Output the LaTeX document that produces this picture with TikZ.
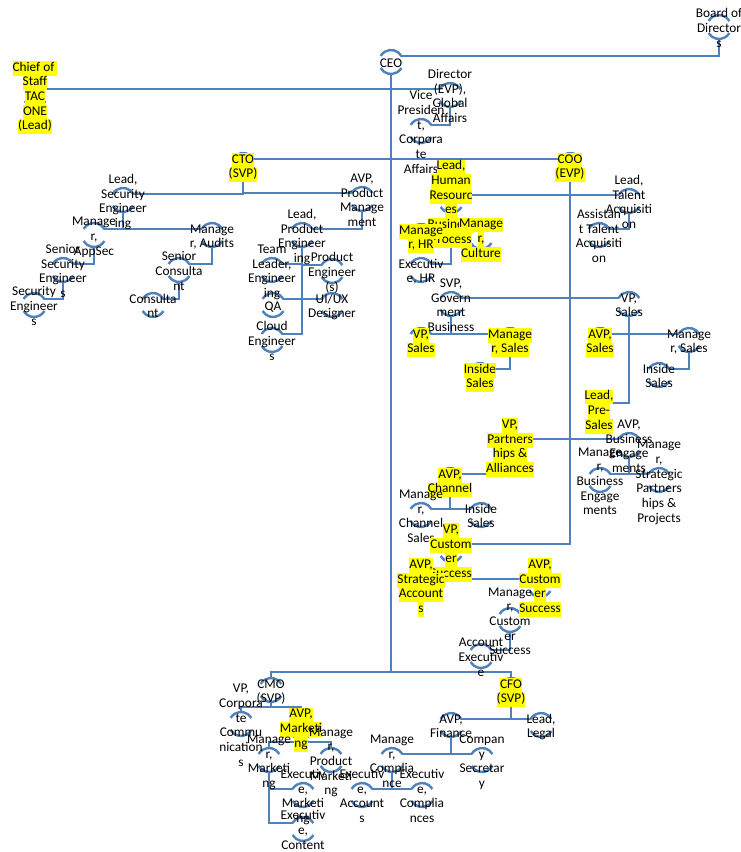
\documentclass[tikz,border=0pt]{standalone}
\usepackage{fontspec}
\setmainfont{Carlito}
\usepackage{xcolor}
\usepackage{tikz}
\pgfdeclarelayer{background}
\pgfsetlayers{background,main}

\definecolor{orgblue}{RGB}{79,129,189}
\definecolor{hlyellow}{RGB}{255,255,0}
\setlength{\fboxsep}{0pt}
\newcommand{\hlt}[1]{\colorbox{hlyellow}{\strut #1}}
\newcommand{\orgtxt}[1]{\makebox[0pt]{\smash{\raisebox{-4.4pt}{\begin{tabular}{@{}c@{}}#1\end{tabular}}}}}

\begin{document}
\begin{tikzpicture}[x=0.75pt,y=0.75pt,yscale=-1,xscale=1,
  org/.style={circle,minimum size=18pt,inner sep=0pt,outer sep=0pt,font=\fontsize{10}{11}\selectfont},
  link/.style={draw=orgblue,line width=2pt},
  bracket/.style={draw=orgblue,line width=1.8pt}]
\useasboundingbox (0,0) rectangle (741,852);

% Text Node
\node [org] (board) at (719,27) {\orgtxt{Board of\\Director\\s}};
% Text Node
\node [org] (ceo) at (391,62) {\orgtxt{CEO}};
% Text Node
\node [org] (chief) at (35,95) {\orgtxt{\hlt{Chief of }\\\hlt{Staff}\\\hlt{TAC}\\\hlt{ONE}\\\hlt{(Lead)}}};
% Text Node
\node [org] (globalaff) at (450,95) {\orgtxt{Director\\(EVP),\\Global\\Affairs}};
% Text Node
\node [org] (corpaff) at (421,131) {\orgtxt{Vice\\Presiden\\t,\\Corpora\\te\\Affairs}};
% Text Node
\node [org] (cto) at (243,165) {\orgtxt{\hlt{CTO}\\\hlt{(SVP)}}};
% Text Node
\node [org] (coo) at (570,165) {\orgtxt{\hlt{COO}\\\hlt{(EVP)}}};
\coordinate (bus) at (391,672);

% Text Node
\node [org] (leadsec) at (123,200) {\orgtxt{Lead,\\Security\\Engineer\\ing}};
% Text Node
\node [org] (avpprod) at (362,199) {\orgtxt{AVP,\\Product\\Manage\\ment}};
% Text Node
\node [org] (mgrappsec) at (94,235) {\orgtxt{Manage\\r,\\AppSec}};
% Text Node
\node [org] (mgraudits) at (212,235) {\orgtxt{Manage\\r, Audits}};
% Text Node
\node [org] (srsec) at (63,270) {\orgtxt{Senior\\Security\\Engineer\\s}};
% Text Node
\node [org] (seceng) at (34,305) {\orgtxt{Security\\Engineer\\s}};
% Text Node
\node [org] (srcons) at (179,270) {\orgtxt{Senior\\Consulta\\nt}};
% Text Node
\node [org] (cons) at (153,305) {\orgtxt{Consulta\\nt}};
% Text Node
\node [org] (leadprod) at (302,235) {\orgtxt{Lead,\\Product\\Engineer\\ing}};
% Text Node
\node [org] (teamlead) at (272,270) {\orgtxt{Team\\Leader,\\Engineer\\ing}};
% Text Node
\node [org] (prodeng) at (332,271) {\orgtxt{Product\\Engineer\\(s)}};
% Text Node
\node [org] (qa) at (273,305) {\orgtxt{QA}};
% Text Node
\node [org] (uiux) at (332,305) {\orgtxt{UI/UX\\Designer}};
% Text Node
\node [org] (cloud) at (272,340) {\orgtxt{Cloud\\Engineer\\s}};

% Text Node
\node [org] (leadhr) at (451,201) {\orgtxt{\hlt{Lead,}\\\hlt{Human}\\\hlt{Resourc}\\\hlt{es}\\\hlt{Business}\\\hlt{Process}}};
% Text Node
\node [org] (mgrhr) at (421,236) {\orgtxt{\hlt{Manage}\\\hlt{r, HR}}};
% Text Node
\node [org] (mgrcult) at (481,237) {\orgtxt{\hlt{Manage}\\\hlt{r,}\\\hlt{Culture}}};
% Text Node
\node [org] (exechr) at (421,270) {\orgtxt{Executiv\\e, HR}};
% Text Node
\node [org] (leadta) at (629,201) {\orgtxt{Lead,\\Talent\\Acquisiti\\on}};
% Text Node
\node [org] (asstta) at (599,235) {\orgtxt{Assistan\\t Talent\\Acquisiti\\on}};
% Text Node
\node [org] (svpgov) at (451,304) {\orgtxt{SVP,\\Govern\\ment\\Business}};
% Text Node
\node [org] (vpsalesL) at (421,340) {\orgtxt{\hlt{VP,}\\\hlt{Sales}}};
% Text Node
\node [org] (mgrsalesL) at (510,340) {\orgtxt{\hlt{Manage}\\\hlt{r, Sales}}};
% Text Node
\node [org] (insideL) at (480,375) {\orgtxt{\hlt{Inside}\\\hlt{Sales}}};
% Text Node
\node [org] (vpsalesR) at (629,304) {\orgtxt{VP,\\Sales}};
% Text Node
\node [org] (avpsalesR) at (600,340) {\orgtxt{\hlt{AVP,}\\\hlt{Sales}}};
% Text Node
\node [org] (mgrsalesR) at (689,340) {\orgtxt{Manage\\r, Sales}};
% Text Node
\node [org] (insideR) at (659,375) {\orgtxt{Inside\\Sales}};
% Text Node
\node [org] (leadpre) at (599,409) {\orgtxt{\hlt{Lead,}\\\hlt{Pre-}\\\hlt{Sales}}};
% Text Node
\node [org] (vppart) at (510,445) {\orgtxt{\hlt{VP,}\\\hlt{Partners}\\\hlt{hips \&}\\\hlt{Alliances}}};
% Text Node
\node [org] (avpbiz) at (629,445) {\orgtxt{AVP,\\Business\\Engage\\ments}};
% Text Node
\node [org] (mgrbiz) at (600,480) {\orgtxt{Manage\\r,\\Business\\Engage\\ments}};
% Text Node
\node [org] (mgrstrat) at (659,480) {\orgtxt{Manage\\r,\\Strategic\\Partners\\hips \&\\Projects}};
% Text Node
\node [org] (avpchan) at (450,480) {\orgtxt{\hlt{AVP,}\\\hlt{Channel}}};
% Text Node
\node [org] (mgrchan) at (421,515) {\orgtxt{Manage\\r,\\Channel\\Sales}};
% Text Node
\node [org] (insidechan) at (481,515) {\orgtxt{Inside\\Sales}};
% Text Node
\node [org] (vpcs) at (451,550) {\orgtxt{\hlt{VP,}\\\hlt{Custom}\\\hlt{er}\\\hlt{Success}}};
% Text Node
\node [org] (avpstrat) at (421,585) {\orgtxt{\hlt{AVP,}\\\hlt{Strategic}\\\hlt{Account}\\\hlt{s}}};
% Text Node
\node [org] (avpcs) at (540,585) {\orgtxt{\hlt{AVP,}\\\hlt{Custom}\\\hlt{er}\\\hlt{Success}}};
% Text Node
\node [org] (mgrcs) at (510,620) {\orgtxt{Manage\\r,\\Custom\\er\\Success}};
% Text Node
\node [org] (acctexec) at (481,656) {\orgtxt{Account\\Executiv\\e}};

% Text Node
\node [org] (cmo) at (271,690) {\orgtxt{CMO\\(SVP)}};
% Text Node
\node [org] (cfo) at (511,690) {\orgtxt{\hlt{CFO}\\\hlt{(SVP)}}};
% Text Node
\node [org] (vpcomm) at (241,724) {\orgtxt{VP,\\Corpora\\te\\Commu\\nication\\s}};
% Text Node
\node [org] (avpmkt) at (301,727) {\orgtxt{\hlt{AVP,}\\\hlt{Marketi}\\\hlt{ng}}};
% Text Node
\node [org] (mgrmkt) at (269,760) {\orgtxt{Manage\\r,\\Marketi\\ng}};
% Text Node
\node [org] (mgrprodmkt) at (331,760) {\orgtxt{Manage\\r,\\Product\\Marketi\\ng}};
% Text Node
\node [org] (execmkt) at (303,795) {\orgtxt{Executiv\\e,\\Marketi\\ng}};
% Text Node
\node [org] (execcont) at (303,829) {\orgtxt{Executiv\\e,\\Content}};
% Text Node
\node [org] (avpfin) at (451,725) {\orgtxt{AVP,\\Finance}};
% Text Node
\node [org] (leadlegal) at (541,725) {\orgtxt{Lead,\\Legal}};
% Text Node
\node [org] (mgrcomp) at (392,760) {\orgtxt{Manage\\r,\\Complia\\nce}};
% Text Node
\node [org] (compsec) at (482,760) {\orgtxt{Compan\\y\\Secretar\\y}};
% Text Node
\node [org] (execacc) at (362,795) {\orgtxt{Executiv\\e,\\Account\\s}};
% Text Node
\node [org] (execcompl) at (422,795) {\orgtxt{Executiv\\e,\\Complia\\nces}};

\begin{pgfonlayer}{background}
%Brackets
\foreach \n in {board,ceo,chief,globalaff,corpaff,cto,coo,leadsec,avpprod,mgrappsec,mgraudits,srsec,seceng,srcons,cons,leadprod,teamlead,prodeng,qa,uiux,cloud,leadhr,mgrhr,mgrcult,exechr,leadta,asstta,svpgov,vpsalesL,mgrsalesL,insideL,vpsalesR,avpsalesR,mgrsalesR,insideR,leadpre,vppart,avpbiz,mgrbiz,mgrstrat,avpchan,mgrchan,insidechan,vpcs,avpstrat,avpcs,mgrcs,acctexec,cmo,cfo,vpcomm,avpmkt,mgrmkt,mgrprodmkt,execmkt,execcont,avpfin,leadlegal,mgrcomp,compsec,execacc,execcompl}
  \draw [bracket] (\n.30) arc [start angle=-30,end angle=-150,radius=9pt] (\n.210) arc [start angle=150,end angle=30,radius=9pt];

%Straight Lines
\draw [link] (board.south) |- (ceo.30);
\draw [link] (ceo.south) -- (bus);
\draw [link] (ceo.south |- chief.30) -- (chief.30);
\draw [link] (ceo.south |- globalaff.150) -- (globalaff.150);
\draw [link] (globalaff.south) |- (corpaff.30);
\draw [link] (ceo.south |- cto.30) -- (cto.30);
\draw [link] (ceo.south |- coo.150) -- (coo.150);
\draw [link] (bus) -| (cmo.north);
\draw [link] (bus) -| (cfo.north);

%Straight Lines
\draw [link] (cto.south) |- (leadsec.30);
\draw [link] (cto.south) |- (avpprod.150);
\draw [link] (leadsec.south) |- (mgrappsec.30);
\draw [link] (leadsec.south) |- (mgraudits.150);
\draw [link] (mgrappsec.south) |- (srsec.30);
\draw [link] (srsec.south) |- (seceng.30);
\draw [link] (mgraudits.south) |- (srcons.30);
\draw [link] (srcons.south) |- (cons.30);
\draw [link] (avpprod.south) |- (leadprod.30);
\draw [link] (leadprod.south) |- (teamlead.30);
\draw [link] (leadprod.south) |- (prodeng.150);
\draw [link] (leadprod.south) |- (qa.30);
\draw [link] (leadprod.south) |- (uiux.150);
\draw [link] (leadprod.south) |- (cloud.30);

%Straight Lines
\draw [link] (coo.south) |- (leadhr.30);
\draw [link] (coo.south) |- (leadta.150);
\draw [link] (coo.south) |- (svpgov.30);
\draw [link] (coo.south) |- (vpsalesR.150);
\draw [link] (coo.south) |- (vppart.30);
\draw [link] (coo.south) |- (avpbiz.150);
\draw [link] (coo.south) |- (vpcs.30);
\draw [link] (leadhr.south) |- (mgrhr.30);
\draw [link] (leadhr.south) |- (mgrcult.150);
\draw [link] (leadhr.south) |- (exechr.30);
\draw [link] (leadta.south) |- (asstta.30);
\draw [link] (svpgov.south) |- (vpsalesL.30);
\draw [link] (svpgov.south) |- (mgrsalesL.150);
\draw [link] (mgrsalesL.south) |- (insideL.30);
\draw [link] (vpsalesR.south) |- (avpsalesR.30);
\draw [link] (vpsalesR.south) |- (mgrsalesR.150);
\draw [link] (vpsalesR.south) |- (leadpre.30);
\draw [link] (mgrsalesR.south) |- (insideR.30);
\draw [link] (vppart.south) |- (avpchan.30);
\draw [link] (avpchan.south) |- (mgrchan.30);
\draw [link] (avpchan.south) |- (insidechan.150);
\draw [link] (avpbiz.south) |- (mgrbiz.30);
\draw [link] (avpbiz.south) |- (mgrstrat.150);
\draw [link] (vpcs.south) |- (avpstrat.30);
\draw [link] (vpcs.south) |- (avpcs.150);
\draw [link] (avpcs.south) |- (mgrcs.30);
\draw [link] (mgrcs.south) |- (acctexec.30);

%Straight Lines
\draw [link] (cmo.south) -- ++(0,5) -| (vpcomm.north);
\draw [link] (cmo.south) -- ++(0,5) -| (avpmkt.north);
\draw [link] (avpmkt.south) -- ++(0,3) -| (mgrmkt.north);
\draw [link] (avpmkt.south) -- ++(0,3) -| (mgrprodmkt.north);
\draw [link] (mgrmkt.south) |- (execmkt.150);
\draw [link] (mgrmkt.south) |- (execcont.150);
\draw [link] (cfo.south) |- (avpfin.30);
\draw [link] (cfo.south) |- (leadlegal.150);
\draw [link] (avpfin.south) |- (mgrcomp.30);
\draw [link] (avpfin.south) |- (compsec.150);
\draw [link] (mgrcomp.south) |- (execacc.30);
\draw [link] (mgrcomp.south) |- (execcompl.150);
\end{pgfonlayer}

\end{tikzpicture}
\end{document}
